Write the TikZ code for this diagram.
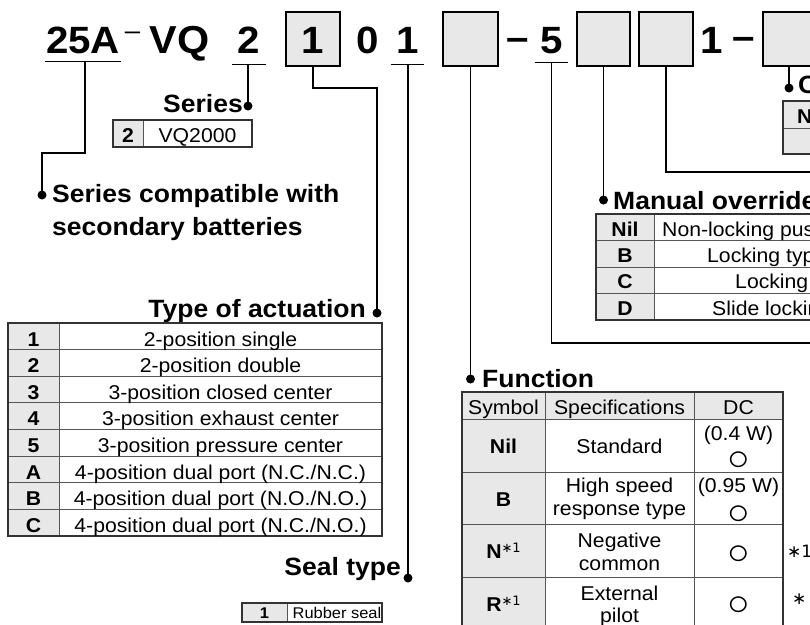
\documentclass[tikz,border=0pt]{standalone}
\usepackage{fontspec}
\setmainfont[FakeStretch=1.06]{Liberation Sans}
\newfontfamily\dejavu{DejaVu Sans}
\definecolor{cellgray}{RGB}{232,232,232}
\definecolor{linegray}{RGB}{85,85,85}
\tikzset{
  conn/.style={line width=1.3pt},
  dotmark/.style={circle, fill=black, inner sep=0pt, minimum size=9pt},
  codetxt/.style={inner sep=0pt, anchor=base, font=\fontsize{38}{40}\selectfont\bfseries},
  codebox/.style={draw=black, line width=1.3pt, fill=cellgray, minimum width=54pt, minimum height=54pt, inner sep=0pt},
  headtxt/.style={inner sep=0pt, font=\fontsize{25}{29}\selectfont\bfseries},
  celltxt/.style={inner sep=0pt, anchor=base, font=\fontsize{20}{23}\selectfont},
  boldcell/.style={celltxt, font=\fontsize{20}{23}\selectfont\bfseries},
  circtxt/.style={celltxt, font=\fontsize{36}{38}\selectfont},
  smallcell/.style={celltxt, font=\fontsize{15.5}{18}\selectfont},
  gridline/.style={draw=linegray, line width=0.8pt},
  tframe/.style={draw=black!80, line width=1.2pt},
}
\begin{document}
\begin{tikzpicture}[x=1pt,y=-1pt]
\useasboundingbox (0,0) rectangle (810,624);
\clip (0,0) rectangle (810,624);

% ---------- code row ----------
\node[codetxt, minimum width=76pt, text depth=8pt] (c25) at (83,53) {25A};
\draw[conn] (c25.south west) -- (c25.south east);
\node[codetxt, font=\fontsize{26}{28}\selectfont] (dsh1) at (132.5,39.5) {–};
\node[codetxt, font=\fontsize{39}{41}\selectfont\bfseries] (cvq) at (179.5,53) {VQ};
\node[codetxt, minimum width=34pt, text depth=11pt] (c2) at (249,53) {2};
\draw[conn] (c2.south west) -- (c2.south east);
\node[codebox] (b1) at (313,39) {};
\node[codetxt] (b1t) at (313,53) {1};
\node[codetxt] (c0) at (368,53) {0};
\node[codetxt, minimum width=33pt, text depth=11pt] (c1a) at (407.5,53) {1};
\draw[conn] (c1a.south west) -- (c1a.south east);
\node[codebox, minimum width=55pt] (b2) at (470.5,39) {};
\node[codetxt] (dsh2) at (518,50) {–};
\node[codetxt, minimum width=33pt, text depth=9pt] (c5) at (551.5,53) {5};
\draw[conn] (c5.south west) -- (c5.south east);
\node[codebox, minimum width=53pt] (b3) at (603.5,39) {};
\node[codebox] (b4) at (666,39) {};
\node[codetxt] (c1b) at (712,53) {1};
\node[codetxt] (dsh3) at (744,49) {–};
\node[codebox] (b5) at (790,39) {};

% ---------- dots and headings ----------
\node[dotmark] (dot25) at (42,195) {};
\node[dotmark] (dotS2) at (248,106) {};
\node[dotmark] (dotT) at (377,313) {};
\node[dotmark] (dotSeal) at (408,578) {};
\node[dotmark] (dotF) at (470.5,379) {};
\node[dotmark] (dotM) at (603.5,200) {};
\node[dotmark] (dotC) at (789,88) {};
\coordinate (k25) at (85,153);
\coordinate (k1) at (377,88);
\coordinate (e5) at (830,343);
\coordinate (e4) at (830,172);

\draw[conn] (c25.south -| k25) -- (k25) -| (dot25.center);
\draw[conn] (c2.south -| dotS2) -- (dotS2.center);
\draw[conn] (b1.south) |- (k1) -- (dotT.center);
\draw[conn] (c1a.south -| dotSeal) -- (dotSeal.center);
\draw[conn] (b2.south) -- (dotF.center);
\draw[conn] (c5.south) |- (e5);
\draw[conn] (b3.south) -- (dotM.center);
\draw[conn] (b4.south) |- (e4);
\draw[conn] (b5.south -| dotC) -- (dotC.center);

\node[headtxt, anchor=base east] (hSeries) at (243,112) {Series};
\node[headtxt, anchor=base west] (hComp1) at (52,202) {Series compatible with};
\node[headtxt, anchor=base west] (hComp2) at (52,235) {secondary batteries};
\node[headtxt, anchor=base east] (hType) at (366,317) {Type of actuation};
\node[headtxt, anchor=base east] (hSeal) at (401,575) {Seal type};
\node[headtxt, anchor=base west] (hFunc) at (482,387) {Function};
\node[headtxt, anchor=base west] (hMan) at (613,209) {Manual override};
\node[headtxt, anchor=base west] (hCE) at (798,93) {CE-compliant};

% ---------- Series table ----------
\fill[cellgray] (113,120) rectangle (143,147);
\draw[gridline] (143,120) -- (143,147);
\draw[tframe] (113,120) rectangle (252,147);
\node[boldcell] (s2) at (128,142) {2};
\node[celltxt] (svq) at (197.5,142) {VQ2000};

% ---------- Type of actuation table ----------
\fill[cellgray] (8,323) rectangle (59,536);
\foreach \i in {1,...,7} \draw[gridline] (8,{323+26.625*\i}) -- (382,{323+26.625*\i});
\draw[gridline] (59,323) -- (59,536);
\draw[tframe] (8,323) rectangle (382,536);
\node[boldcell] (t1k) at (33.5,346) {1};
\node[celltxt] (t1v) at (220.5,346) {2-position single};
\node[boldcell] (t2k) at (33.5,372.6) {2};
\node[celltxt] (t2v) at (220.5,372.6) {2-position double};
\node[boldcell] (t3k) at (33.5,399.3) {3};
\node[celltxt] (t3v) at (220.5,399.3) {3-position closed center};
\node[boldcell] (t4k) at (33.5,425.9) {4};
\node[celltxt] (t4v) at (220.5,425.9) {3-position exhaust center};
\node[boldcell] (t5k) at (33.5,452.5) {5};
\node[celltxt] (t5v) at (220.5,452.5) {3-position pressure center};
\node[boldcell] (tAk) at (33.5,479.1) {A};
\node[celltxt] (tAv) at (220.5,479.1) {4-position dual port (N.C./N.C.)};
\node[boldcell] (tBk) at (33.5,505.8) {B};
\node[celltxt] (tBv) at (220.5,505.8) {4-position dual port (N.O./N.O.)};
\node[boldcell] (tCk) at (33.5,532.4) {C};
\node[celltxt] (tCv) at (220.5,532.4) {4-position dual port (N.C./N.O.)};

% ---------- Seal type table ----------
\fill[cellgray] (242,603) rectangle (287,622);
\draw[gridline] (287,603) -- (287,622);
\draw[tframe] (242,603) rectangle (382,622);
\node[smallcell, font=\fontsize{15.5}{18}\selectfont\bfseries] (sk1) at (264.5,618) {1};
\node[smallcell] (srs) at (337,618) {Rubber seal};

% ---------- Manual override table ----------
\fill[cellgray] (596,214) rectangle (654,320);
\foreach \yy in {240.5,267,293.5} \draw[gridline] (596,\yy) -- (830,\yy);
\draw[gridline] (654,214) -- (654,320);
\draw[tframe] (596,214) rectangle (830,320);
\node[boldcell] (mNil) at (625,236) {Nil};
\node[boldcell] (mB) at (625,262) {B};
\node[boldcell] (mC) at (625,288.5) {C};
\node[boldcell] (mD) at (625,315) {D};
\node[celltxt, anchor=base west] (mNilv) at (662,236) {Non-locking push type};
\node[celltxt, anchor=base west] (mBv) at (707,262) {Locking type (Tool required)};
\node[celltxt, anchor=base west] (mCv) at (735,288.5) {Locking type (Manual)};
\node[celltxt, anchor=base west] (mDv) at (712,315) {Slide locking type (Manual)};

% ---------- CE table (top right) ----------
\fill[cellgray] (783,101) rectangle (840,154);
\draw[gridline] (783,128) -- (840,128);
\draw[tframe] (783,101) rectangle (840,154);
\node[boldcell, anchor=base west] (ceNil) at (797,123) {Nil};
\node[boldcell] (ceQ) at (820,149) {Q};

% ---------- Function table ----------
\fill[cellgray] (462,392) rectangle (783,419);
\fill[cellgray] (462,419) rectangle (545,630);
\foreach \yy in {419,472,524,577} \draw[gridline] (462,\yy) -- (783,\yy);
\draw[gridline] (545,392) -- (545,630);
\draw[gridline] (694,392) -- (694,630);
\draw[tframe] (462,392) rectangle (783,630);
\node[celltxt] (fh1) at (503.5,414) {Symbol};
\node[celltxt] (fh2) at (619.5,414) {Specifications};
\node[celltxt] (fh3) at (738.5,414) {DC};
\node[boldcell] (fNil) at (503.5,453) {Nil};
\node[celltxt] (fStd) at (619.5,453) {Standard};
\node[celltxt] (fW1) at (738.5,440) {(0.4 W)};
\node[circtxt] (fO1) at (738.5,470) {○};
\node[boldcell] (fB) at (503.5,506) {B};
\node[celltxt] (fHs1) at (619.5,492) {High speed};
\node[celltxt] (fHs2) at (619.5,515) {response type};
\node[celltxt] (fW2) at (738.5,492) {(0.95 W)};
\node[circtxt] (fO2) at (738.5,524.5) {○};
\node[boldcell] (fN) at (503.5,558) {N\raisebox{6pt}{\normalfont\dejavu\fontsize{13}{13}\selectfont ∗1}};
\node[celltxt] (fNeg1) at (619.5,547) {Negative};
\node[celltxt] (fNeg2) at (619.5,570) {common};
\node[circtxt] (fO3) at (738.5,564.5) {○};
\node[boldcell] (fR) at (503.5,611) {R\raisebox{6pt}{\normalfont\dejavu\fontsize{13}{13}\selectfont ∗1}};
\node[celltxt] (fExt1) at (619.5,600) {External};
\node[celltxt] (fExt2) at (619.5,622) {pilot};
\node[circtxt] (fO4) at (738.5,615.5) {○};
\node[celltxt, anchor=base west, font=\dejavu\fontsize{17}{20}\selectfont] (nN) at (787,557) {∗1};
\node[celltxt, anchor=base west, font=\dejavu\fontsize{17}{20}\selectfont] (nR) at (792,604) {∗};
\end{tikzpicture}
\end{document}
